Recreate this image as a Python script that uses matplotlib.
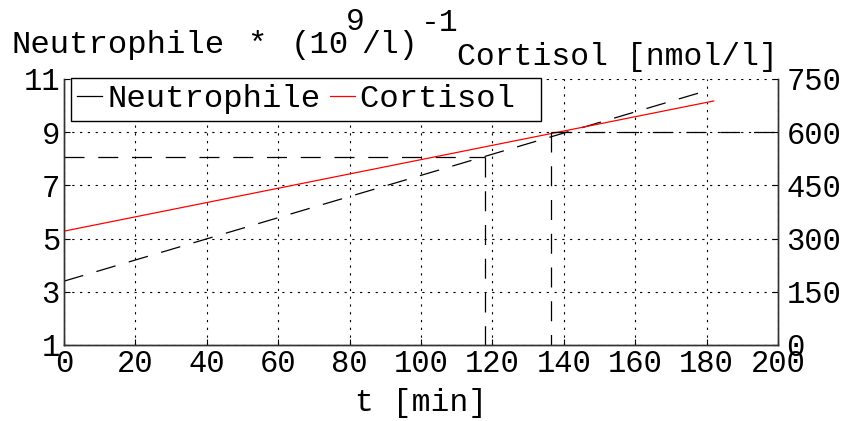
import matplotlib
matplotlib.use("Agg")
import matplotlib.pyplot as plt
from matplotlib.lines import Line2D

# data
t_neut = [0, 178.5]
neutrophile = [3.4, 10.5]
t_cort = [0, 182]
cortisol = [321, 688]
neut_threshold = 8.07
neut_t_cross = 117.8
cort_threshold = 600
cort_t_cross = 136.5

x_ticks = [0, 20, 40, 60, 80, 100, 120, 140, 160, 180, 200]
left_ticks = [1, 3, 5, 7, 9, 11]
right_ticks = [0, 150, 300, 450, 600, 750]

FONT = "Liberation Mono"
FS = 22
FT = 22.6
FL = 23.3
plt.rcParams['font.family'] = [FONT, 'DejaVu Sans']

fig = plt.figure(figsize=(8.49, 4.21), dpi=100)
ax = fig.add_axes([64/849, 1-345/421, (778-64)/849, (345-79)/421])
ax2 = ax.twinx()

dash_long = (0, (16, 11))
ax.plot(t_neut, neutrophile, color='black', lw=0.9, linestyle=dash_long)
ax.plot([0, neut_t_cross], [neut_threshold, neut_threshold], color='black', lw=0.9, linestyle=dash_long)
ax.plot([neut_t_cross, neut_t_cross], [neut_threshold, 1], color='black', lw=0.9, linestyle=dash_long)

ax2.plot(t_cort, cortisol, color='red', lw=0.9)
ax2.plot([cort_t_cross, 200], [cort_threshold, cort_threshold], color='black', lw=0.9, linestyle=dash_long)
ax2.plot([cort_t_cross, cort_t_cross], [cort_threshold, 0], color='black', lw=0.9, linestyle=dash_long)

ax.set_xlim(0, 200)
ax.set_ylim(1, 11)
ax2.set_ylim(0, 750)
ax.set_xticks(x_ticks)
ax.set_yticks(left_ticks)
ax2.set_yticks(right_ticks)

ax.grid(True, color='black', linestyle=(0, (2, 5)), lw=0.8)
for a in (ax, ax2):
    a.spines['top'].set_visible(False)
    for s in ('left', 'right', 'bottom'):
        a.spines[s].set_linewidth(1.0)
        a.spines[s].set_color('#333333')
ax.tick_params(direction='in', length=4, labelsize=FS, pad=3, top=False)
ax2.tick_params(direction='in', length=4, labelsize=FS, pad=6)
for lab in ax.get_xticklabels() + ax.get_yticklabels() + ax2.get_yticklabels():
    lab.set_fontfamily(FONT)

ax.set_xlabel("t [min]", fontsize=FT, labelpad=6)

# legend
handles = [Line2D([], [], color='black', lw=0.9), Line2D([], [], color='red', lw=0.9)]
leg = ax2.legend(handles, ["Neutrophile", "Cortisol "], loc='upper left',
                 bbox_to_anchor=(7/714, 1.004), ncol=2, fontsize=FL, frameon=True,
                 fancybox=False, edgecolor='black', framealpha=1,
                 handlelength=0.75, handletextpad=0.18, columnspacing=0.3,
                 borderpad=0.2, borderaxespad=0)
leg.get_frame().set_linewidth(1.0)

# axis titles
fig.text(12/849, 1-53/421, "Neutrophile", fontsize=FL, va='baseline', ha='left')
fig.text(247/849, 1-53/421, "*", fontsize=FL, va='baseline', ha='left')
fig.text(291/849, 1-53/421, "(10", fontsize=FL, va='baseline', ha='left')
fig.text(346/849, 1-30/421, "9", fontsize=FT, va='baseline', ha='left')
fig.text(361/849, 1-53/421, "/l)", fontsize=FT, va='baseline', ha='left')
fig.text(421/849, 1-31/421, "-1", fontsize=FT, va='baseline', ha='left')
fig.text(778/849, 1-65/421, "Cortisol [nmol/l]", fontsize=FT, va='baseline', ha='right')

fig.savefig("out.png", dpi=100)
